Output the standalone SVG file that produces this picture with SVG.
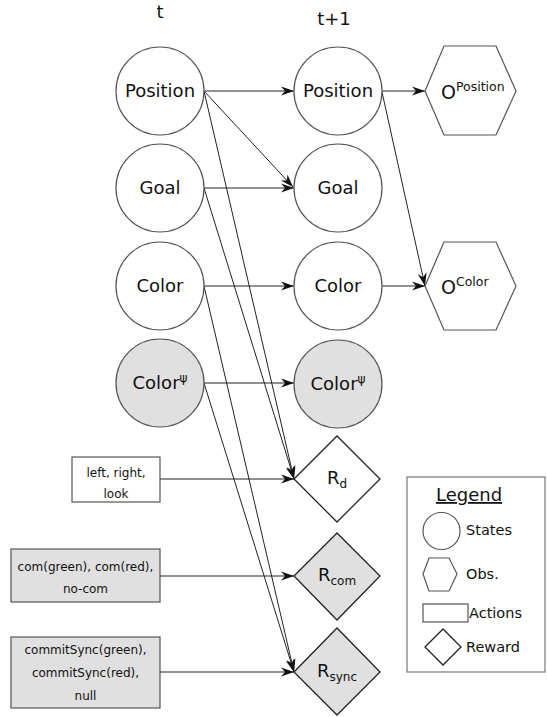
<svg xmlns="http://www.w3.org/2000/svg" width="547" height="717" viewBox="0 0 547 717">
<style>
text{font-family:"DejaVu Sans","Liberation Sans",sans-serif;fill:#111}
.st{fill:#fff;stroke:#555;stroke-width:1.2}
.st.g{fill:#e0e0e0}
.ob{fill:#fff;stroke:#555;stroke-width:1.2}
.ac{fill:#fff;stroke:#555;stroke-width:1.2}
.ac.g{fill:#e0e0e0}
.rw{fill:#fff;stroke:#222;stroke-width:1.3}
.rw.g{fill:#e0e0e0}
.big{font-size:18px;text-anchor:middle}
.sm{font-size:12px;text-anchor:middle}
.lg{font-size:14.5px}
.cn{stroke:#222;stroke-width:1;fill:none;marker-end:url(#ah)}
</style>
<defs>
<marker id="ah" markerUnits="userSpaceOnUse" viewBox="-14 -6 15 12" refX="0" refY="0" markerWidth="15" markerHeight="12" orient="auto">
<path d="M0,0 L-13,-4.5 L-9,0 L-13,4.5 Z" fill="#111"/>
</marker>
</defs>
<text x="160" y="18" class="big">t</text>
<text x="334" y="25" class="big">t+1</text>
<g id="connectors">
<path class="cn" d="M204,91 L294,91"/>
<path class="cn" d="M204,91 L293,187"/>
<path class="cn" d="M204,91 L294,479"/>
<path class="cn" d="M204,188 L294,188"/>
<path class="cn" d="M204,188 L294,479"/>
<path class="cn" d="M204,286 L294,286"/>
<path class="cn" d="M204,286 L294,672"/>
<path class="cn" d="M204,383 L294,383"/>
<path class="cn" d="M204,383 L294,672"/>
<path class="cn" d="M382,91 L425,91"/>
<path class="cn" d="M382,92 L425,286"/>
<path class="cn" d="M382,286 L425,286"/>
<path class="cn" d="M160,479 L294,479"/>
<path class="cn" d="M160,576 L294,576"/>
<path class="cn" d="M160,672 L294,672"/>
</g>
<g id="position_t"><circle class="st" cx="160" cy="91" r="44"/><text x="160" y="97" class="big">Position</text></g>
<g id="goal_t"><circle class="st" cx="160" cy="188" r="44"/><text x="160" y="194" class="big">Goal</text></g>
<g id="color_t"><circle class="st" cx="160" cy="286" r="44"/><text x="160" y="292" class="big">Color</text></g>
<g id="colorpsi_t"><circle class="st g" cx="160" cy="383" r="44"/><text x="160" y="389" class="big">Color<tspan dy="-7" font-size="12">ψ</tspan></text></g>
<g id="position_t1"><circle class="st" cx="338" cy="91" r="44"/><text x="338" y="97" class="big">Position</text></g>
<g id="goal_t1"><circle class="st" cx="338" cy="188" r="44"/><text x="338" y="194" class="big">Goal</text></g>
<g id="color_t1"><circle class="st" cx="338" cy="286" r="44"/><text x="338" y="292" class="big">Color</text></g>
<g id="colorpsi_t1"><circle class="st g" cx="338" cy="384" r="44"/><text x="338" y="390" class="big">Color<tspan dy="-7" font-size="12">ψ</tspan></text></g>
<g id="obs_position"><polygon class="ob" points="425,91 444,46 496,46 516,91 496,135 444,135"/><text x="441" y="99" font-size="19">O<tspan dy="-8" font-size="12.5">Position</tspan></text></g>
<g id="obs_color"><polygon class="ob" points="425,286 444,242 496,242 516,286 496,330 444,330"/><text x="441" y="294" font-size="19">O<tspan dy="-8" font-size="12.5">Color</tspan></text></g>
<g id="action_move"><rect class="ac" x="72" y="457" width="88" height="45"/><text x="116" y="477" class="sm">left, right,</text><text x="116" y="498" class="sm">look</text></g>
<g id="action_com"><rect class="ac g" x="11" y="549" width="149" height="53"/><text x="85.5" y="571" class="sm">com(green), com(red),</text><text x="85.5" y="593" class="sm">no-com</text></g>
<g id="action_sync"><rect class="ac g" x="11" y="637" width="149" height="71"/><text x="85.5" y="654" class="sm">commitSync(green),</text><text x="85.5" y="677" class="sm">commitSync(red),</text><text x="85.5" y="700" class="sm">null</text></g>
<g id="reward_d"><polygon class="rw" points="294,479 337,436 380,479 337,522"/><text x="337" y="484" class="big" font-size="17">R<tspan dy="4" font-size="12">d</tspan></text></g>
<g id="reward_com"><polygon class="rw g" points="294,576 337,533 380,576 337,620"/><text x="337" y="581" class="big" font-size="17">R<tspan dy="4" font-size="12">com</tspan></text></g>
<g id="reward_sync"><polygon class="rw g" points="294,672 337,628 380,672 337,715"/><text x="337" y="677" class="big" font-size="17">R<tspan dy="4" font-size="12">sync</tspan></text></g>
<g id="legend">
<rect x="407" y="477" width="138" height="195" fill="#fff" stroke="#777" stroke-width="1.2"/>
<text x="469" y="501" font-size="18" text-anchor="middle" text-decoration="underline">Legend</text>
<circle class="st" cx="441.5" cy="531" r="18.5"/>
<text x="466" y="535" class="lg">States</text>
<polygon class="ob" points="423,574 429,558 449,558 457,574 449,591 429,591"/>
<text x="466" y="579" class="lg">Obs.</text>
<rect class="ac" x="423" y="604" width="45" height="18"/>
<text x="469" y="618" class="lg">Actions</text>
<polygon class="rw" points="425,647 443,629 461,647 443,665"/>
<text x="466" y="652" class="lg">Reward</text>
</g>
</svg>
